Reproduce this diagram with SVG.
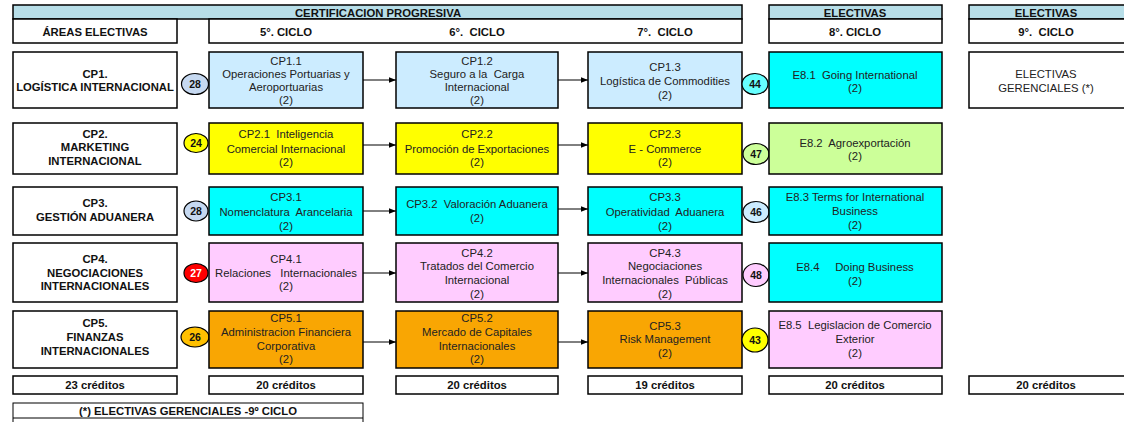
<svg xmlns="http://www.w3.org/2000/svg" width="1124" height="422" viewBox="0 0 1124 422">
<style>
.b{stroke:#000;stroke-width:1.5}
.t{font-family:"Liberation Sans",Arial,sans-serif;font-size:11.3px;fill:#222;text-anchor:middle;white-space:pre}
.h{font-family:"Liberation Sans",Arial,sans-serif;font-size:11.3px;font-weight:bold;fill:#111;text-anchor:middle;white-space:pre}
.c{font-family:"Liberation Sans",Arial,sans-serif;font-size:10.5px;font-weight:bold;fill:#111;text-anchor:middle}
.w{fill:#fff}.lb{fill:#CCECFF}.cy{fill:#00FFFF}.ye{fill:#FFFF00}.gr{fill:#CCFF99}.pk{fill:#FFCCFF}.or{fill:#F9A603}.hd{fill:#B7DEE8}
.cl{stroke:#000;stroke-width:1.2}
.ar{stroke:#000;stroke-width:1;fill:none}
</style>
<defs>
<marker id="ah" viewBox="0 0 10 10" refX="10" refY="5" markerWidth="7" markerHeight="7" orient="auto" markerUnits="userSpaceOnUse"><path d="M0,1 L10,5 L0,9 z" fill="#000"/></marker>
</defs>
<rect width="1124" height="422" fill="#fff"/>

<g id="header">
<rect class="b hd" x="13" y="5" width="729" height="14"/>
<text class="h" x="378" y="16.5">CERTIFICACION PROGRESIVA</text>
<rect class="b w" x="13" y="19" width="164" height="24"/>
<text class="h" x="95" y="35.5">ÁREAS ELECTIVAS</text>
<rect class="b w" x="209" y="19" width="533" height="24"/>
<text class="h" x="286" y="35.5">5°. CICLO</text>
<text class="h" x="477" y="35.5">6°.  CICLO</text>
<text class="h" x="665" y="35.5">7°.  CICLO</text>
<rect class="b hd" x="769" y="5" width="173" height="14"/>
<text class="h" x="855" y="16.5">ELECTIVAS</text>
<rect class="b w" x="769" y="19" width="173" height="24"/>
<text class="h" x="855" y="35.5">8°. CICLO</text>
<rect class="b hd" x="969" y="5" width="170" height="14"/>
<text class="h" x="1046" y="16.5">ELECTIVAS</text>
<rect class="b w" x="969" y="19" width="170" height="24"/>
<text class="h" x="1046" y="35.5">9°.  CICLO</text>
</g>

<g id="connectors">
<line class="ar" x1="363" y1="80" x2="396" y2="80" marker-end="url(#ah)"/>
<line class="ar" x1="558" y1="80" x2="588" y2="80" marker-end="url(#ah)"/>
<line class="ar" x1="363" y1="145" x2="396" y2="145" marker-end="url(#ah)"/>
<line class="ar" x1="558" y1="145" x2="588" y2="145" marker-end="url(#ah)"/>
<line class="ar" x1="363" y1="211" x2="396" y2="211" marker-end="url(#ah)"/>
<line class="ar" x1="558" y1="209" x2="588" y2="209" marker-end="url(#ah)"/>
<line class="ar" x1="363" y1="273" x2="396" y2="273" marker-end="url(#ah)"/>
<line class="ar" x1="558" y1="273" x2="588" y2="273" marker-end="url(#ah)"/>
<line class="ar" x1="363" y1="342" x2="396" y2="342" marker-end="url(#ah)"/>
<line class="ar" x1="558" y1="342" x2="588" y2="342" marker-end="url(#ah)"/>
</g>

<!-- Row 1 -->
<g id="cp1">
<rect class="b w" x="13" y="52" width="164" height="56"/>
<text class="h" x="95" y="78">CP1.</text>
<text class="h" x="95" y="91">LOGÍSTICA INTERNACIONAL</text>
</g>
<g id="b28a"><ellipse class="cl" cx="195" cy="84" rx="13.5" ry="10.5" fill="#C6D9F1"/><text class="c" x="195" y="88">28</text></g>
<g id="cp11">
<rect class="b lb" x="209" y="52" width="154" height="56"/>
<text class="t" x="286" y="65">CP1.1</text>
<text class="t" x="286" y="78">Operaciones Portuarias y</text>
<text class="t" x="286" y="91">Aeroportuarias</text>
<text class="t" x="286" y="104">(2)</text>
</g>
<g id="cp12">
<rect class="b lb" x="396" y="52" width="162" height="56"/>
<text class="t" x="477" y="65">CP1.2</text>
<text class="t" x="477" y="78">Seguro a la  Carga</text>
<text class="t" x="477" y="91">Internacional</text>
<text class="t" x="477" y="104">(2)</text>
</g>
<g id="cp13">
<rect class="b lb" x="588" y="52" width="154" height="56"/>
<text class="t" x="665" y="71">CP1.3</text>
<text class="t" x="665" y="85">Logística de Commodities</text>
<text class="t" x="665" y="99">(2)</text>
</g>
<g id="b44"><ellipse class="cl" cx="755" cy="84" rx="13" ry="10.5" fill="#66FFFF"/><text class="c" x="755" y="88">44</text></g>
<g id="e81">
<rect class="b cy" x="769" y="52" width="173" height="56"/>
<text class="t" x="855" y="79">E8.1  Going International</text>
<text class="t" x="855" y="92">(2)</text>
</g>
<g id="eg">
<rect class="b w" x="969" y="52" width="170" height="56"/>
<text class="t" x="1046" y="78">ELECTIVAS</text>
<text class="t" x="1046" y="92">GERENCIALES (*)</text>
</g>

<!-- Row 2 -->
<g id="cp2">
<rect class="b w" x="13" y="123" width="164" height="51"/>
<text class="h" x="95" y="138">CP2.</text>
<text class="h" x="95" y="151">MARKETING</text>
<text class="h" x="95" y="165">INTERNACIONAL</text>
</g>
<g id="b24"><ellipse class="cl" cx="196" cy="143" rx="12" ry="9.5" fill="#FFFF00"/><text class="c" x="196" y="147">24</text></g>
<g id="cp21">
<rect class="b ye" x="209" y="123" width="154" height="51"/>
<text class="t" x="286" y="138">CP2.1  Inteligencia</text>
<text class="t" x="286" y="153">Comercial Internacional</text>
<text class="t" x="286" y="166">(2)</text>
</g>
<g id="cp22">
<rect class="b ye" x="396" y="123" width="162" height="51"/>
<text class="t" x="477" y="138">CP2.2</text>
<text class="t" x="477" y="153">Promoción de Exportaciones</text>
<text class="t" x="477" y="166">(2)</text>
</g>
<g id="cp23">
<rect class="b ye" x="588" y="123" width="154" height="51"/>
<text class="t" x="665" y="138">CP2.3</text>
<text class="t" x="665" y="153">E - Commerce</text>
<text class="t" x="665" y="166">(2)</text>
</g>
<g id="b47"><ellipse class="cl" cx="756" cy="154" rx="13" ry="10.5" fill="#CCFF99"/><text class="c" x="756" y="158">47</text></g>
<g id="e82">
<rect class="b gr" x="769" y="123" width="173" height="51"/>
<text class="t" x="855" y="147">E8.2  Agroexportación</text>
<text class="t" x="855" y="160">(2)</text>
</g>

<!-- Row 3 -->
<g id="cp3">
<rect class="b w" x="13" y="187" width="164" height="48"/>
<text class="h" x="95" y="207">CP3.</text>
<text class="h" x="95" y="221">GESTIÓN ADUANERA</text>
</g>
<g id="b28b"><ellipse class="cl" cx="196" cy="211" rx="12" ry="10" fill="#C6D9F1"/><text class="c" x="196" y="215">28</text></g>
<g id="cp31">
<rect class="b cy" x="209" y="187" width="154" height="48"/>
<text class="t" x="286" y="201">CP3.1</text>
<text class="t" x="286" y="216">Nomenclatura  Arancelaria</text>
<text class="t" x="286" y="230">(2)</text>
</g>
<g id="cp32">
<rect class="b cy" x="396" y="187" width="162" height="48"/>
<text class="t" x="477" y="208">CP3.2  Valoración Aduanera</text>
<text class="t" x="477" y="222">(2)</text>
</g>
<g id="cp33">
<rect class="b cy" x="588" y="187" width="154" height="48"/>
<text class="t" x="665" y="201">CP3.3</text>
<text class="t" x="665" y="216">Operatividad  Aduanera</text>
<text class="t" x="665" y="230">(2)</text>
</g>
<g id="b46"><ellipse class="cl" cx="756" cy="212" rx="13" ry="10.5" fill="#CCECFF"/><text class="c" x="756" y="216">46</text></g>
<g id="e83">
<rect class="b cy" x="769" y="187" width="173" height="48"/>
<text class="t" x="855" y="201">E8.3 Terms for International</text>
<text class="t" x="855" y="215">Business</text>
<text class="t" x="855" y="229">(2)</text>
</g>

<!-- Row 4 -->
<g id="cp4">
<rect class="b w" x="13" y="243" width="164" height="59"/>
<text class="h" x="95" y="263">CP4.</text>
<text class="h" x="95" y="277">NEGOCIACIONES</text>
<text class="h" x="95" y="290">INTERNACIONALES</text>
</g>
<g id="b27"><ellipse class="cl" cx="196" cy="273" rx="12" ry="9.5" fill="#FF0000"/><text class="c" x="196" y="277" style="fill:#fff">27</text></g>
<g id="cp41">
<rect class="b pk" x="209" y="243" width="154" height="59"/>
<text class="t" x="286" y="263">CP4.1</text>
<text class="t" x="286" y="277">Relaciones   Internacionales</text>
<text class="t" x="286" y="290">(2)</text>
</g>
<g id="cp42">
<rect class="b pk" x="396" y="243" width="162" height="59"/>
<text class="t" x="477" y="257">CP4.2</text>
<text class="t" x="477" y="270">Tratados del Comercio</text>
<text class="t" x="477" y="284">Internacional</text>
<text class="t" x="477" y="298">(2)</text>
</g>
<g id="cp43">
<rect class="b pk" x="588" y="243" width="154" height="59"/>
<text class="t" x="665" y="257">CP4.3</text>
<text class="t" x="665" y="270">Negociaciones</text>
<text class="t" x="665" y="284">Internacionales  Públicas</text>
<text class="t" x="665" y="298">(2)</text>
</g>
<g id="b48"><ellipse class="cl" cx="756" cy="275" rx="13" ry="11.5" fill="#FFCCFF"/><text class="c" x="756" y="279">48</text></g>
<g id="e84">
<rect class="b cy" x="769" y="243" width="173" height="59"/>
<text class="t" x="855" y="271">E8.4     Doing Business</text>
<text class="t" x="855" y="285">(2)</text>
</g>

<!-- Row 5 -->
<g id="cp5">
<rect class="b w" x="13" y="311" width="164" height="57"/>
<text class="h" x="95" y="327">CP5.</text>
<text class="h" x="95" y="341">FINANZAS</text>
<text class="h" x="95" y="355">INTERNACIONALES</text>
</g>
<g id="b26"><ellipse class="cl" cx="195" cy="337" rx="14" ry="10" fill="#FFC000"/><text class="c" x="195" y="341">26</text></g>
<g id="cp51">
<rect class="b or" x="209" y="311" width="154" height="57"/>
<text class="t" x="286" y="322">CP5.1</text>
<text class="t" x="286" y="336">Administracion Financiera</text>
<text class="t" x="286" y="350">Corporativa</text>
<text class="t" x="286" y="363">(2)</text>
</g>
<g id="cp52">
<rect class="b or" x="396" y="311" width="162" height="57"/>
<text class="t" x="477" y="322">CP5.2</text>
<text class="t" x="477" y="336">Mercado de Capitales</text>
<text class="t" x="477" y="350">Internacionales</text>
<text class="t" x="477" y="363">(2)</text>
</g>
<g id="cp53">
<rect class="b or" x="588" y="311" width="154" height="57"/>
<text class="t" x="665" y="330">CP5.3</text>
<text class="t" x="665" y="343">Risk Management</text>
<text class="t" x="665" y="357">(2)</text>
</g>
<g id="b43"><ellipse class="cl" cx="755" cy="340" rx="13" ry="12" fill="#FFFF00"/><text class="c" x="755" y="344">43</text></g>
<g id="e85">
<rect class="b pk" x="769" y="311" width="173" height="57"/>
<text class="t" x="855" y="329">E8.5  Legislacion de Comercio</text>
<text class="t" x="855" y="343">Exterior</text>
<text class="t" x="855" y="357">(2)</text>
</g>

<!-- Credits -->
<g id="credits">
<rect class="b w" x="13" y="376" width="164" height="18"/>
<text class="h" x="95" y="389">23 créditos</text>
<rect class="b w" x="209" y="376" width="154" height="18"/>
<text class="h" x="286" y="389">20 créditos</text>
<rect class="b w" x="396" y="376" width="162" height="18"/>
<text class="h" x="477" y="389">20 créditos</text>
<rect class="b w" x="588" y="376" width="154" height="18"/>
<text class="h" x="665" y="389">19 créditos</text>
<rect class="b w" x="769" y="376" width="173" height="18"/>
<text class="h" x="855" y="389">20 créditos</text>
<rect class="b w" x="969" y="376" width="170" height="18"/>
<text class="h" x="1046" y="389">20 créditos</text>
</g>

<g id="footer">
<rect x="13" y="403" width="350" height="30" fill="#fff" stroke="#000" stroke-width="1"/>
<line x1="13" y1="418" x2="363" y2="418" stroke="#000" stroke-width="1"/>
<text class="h" x="188" y="415">(*) ELECTIVAS GERENCIALES -9º CICLO</text>
</g>
</svg>
